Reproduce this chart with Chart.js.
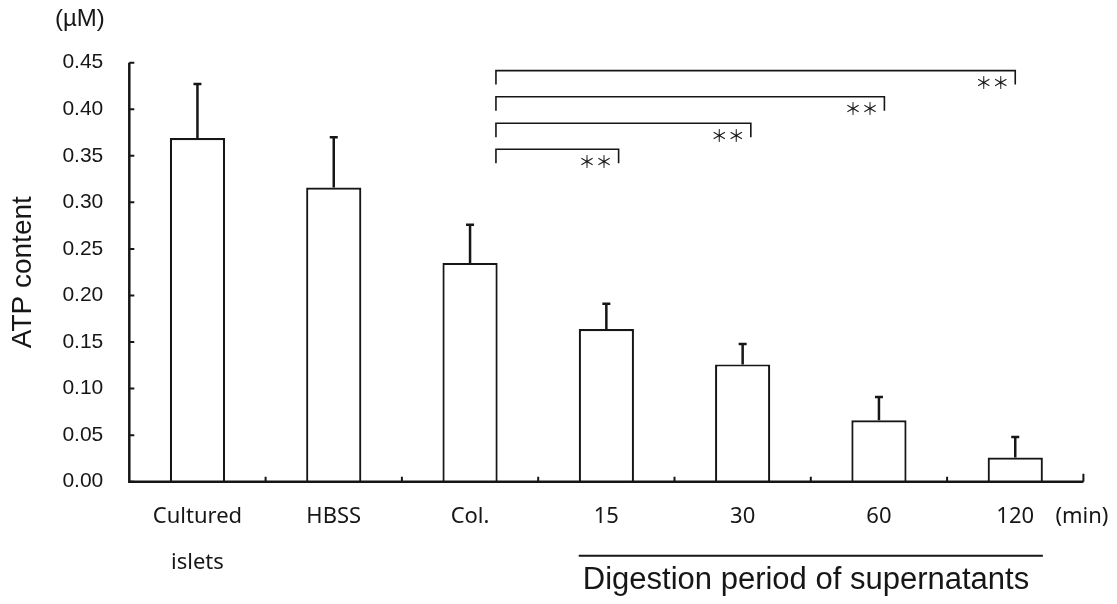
<!DOCTYPE html>
<html>
<head>
<meta charset="utf-8">
<script src="https://cdn.jsdelivr.net/npm/chart.js@4.4.1/dist/chart.umd.min.js"></script>
<style>
  body { margin: 0; background: #fff; }
  #wrap { width: 1117px; height: 604px; }
</style>
</head>
<body>
<div id="wrap"><canvas id="myChart" width="1117" height="604"></canvas></div>
<script>
// values
var categories = [['Cultured', 'islets'], 'HBSS', 'Col.', '15', '30', '60', '120'];
var atpMean = [0.369, 0.316, 0.235, 0.164, 0.126, 0.066, 0.026];
var atpSD = [0.058, 0.054, 0.041, 0.027, 0.022, 0.025, 0.022];
var yTickValues = [0, 0.05, 0.10, 0.15, 0.20, 0.25, 0.30, 0.35, 0.40, 0.45];
var yTickLabels = ['0.00', '0.05', '0.10', '0.15', '0.20', '0.25', '0.30', '0.35', '0.40', '0.45'];

// significance brackets: Col. vs each digestion time
var bracketFrom = [2.19, 2.19, 2.19, 2.19];
var bracketTo = [3.09, 4.06, 5.04, 6.0];
var bracketLevel = [0.357, 0.385, 0.4135, 0.4415];
var bracketMark = '＊＊';

var ink = '#161616';

var extras = {
  id: 'extras',
  afterDatasetsDraw: function(chart) {
    var ctx = chart.ctx;
    var x = chart.scales.x, y = chart.scales.y;
    var meta = chart.getDatasetMeta(0);
    ctx.save();
    ctx.strokeStyle = ink;
    ctx.fillStyle = ink;

    // error bars (upper only)
    ctx.lineWidth = 2.5;
    meta.data.forEach(function(bar, i) {
      var top = y.getPixelForValue(atpMean[i] + atpSD[i]);
      ctx.beginPath();
      ctx.moveTo(bar.x, bar.y);
      ctx.lineTo(bar.x, top);
      ctx.moveTo(bar.x - 4, top);
      ctx.lineTo(bar.x + 4, top);
      ctx.stroke();
    });

    // axis lines
    ctx.lineWidth = 2.5;
    ctx.beginPath();
    ctx.moveTo(x.left, y.top);
    ctx.lineTo(x.left, y.bottom);
    ctx.lineTo(x.right, y.bottom);
    ctx.stroke();

    // inward ticks
    ctx.lineWidth = 2;
    ctx.beginPath();
    y.ticks.forEach(function(t) {
      var py = y.getPixelForValue(t.value);
      ctx.moveTo(x.left, py);
      ctx.lineTo(x.left + 5, py);
    });
    for (var i = 1; i <= categories.length; i++) {
      var px = x.getPixelForValue(i - 0.5);
      ctx.moveTo(px, y.bottom);
      ctx.lineTo(px, y.bottom - (i == categories.length ? 8 : 5));
    }
    ctx.stroke();

    // brackets
    ctx.lineWidth = 1.6;
    ctx.font = '17px "Noto Sans CJK JP"';
    ctx.textAlign = 'right';
    ctx.textBaseline = 'middle';
    for (var j = 0; j < bracketTo.length; j++) {
      var x1 = x.getPixelForValue(bracketFrom[j]);
      var x2 = x.getPixelForValue(bracketTo[j]);
      var by = y.getPixelForValue(bracketLevel[j]);
      ctx.beginPath();
      ctx.moveTo(x1, by + 14);
      ctx.lineTo(x1, by);
      ctx.lineTo(x2, by);
      ctx.lineTo(x2, by + 14);
      ctx.stroke();
      ctx.fillText(bracketMark, x2 - 6, by + 12);
    }

    // unit labels
    ctx.textBaseline = 'middle';
    ctx.textAlign = 'left';
    ctx.font = '24px "Liberation Sans"';
    ctx.fillText('(\u00b5M)', 55, 19);
    ctx.font = '22px "Noto Sans"';
    ctx.fillText('(min)', x.right - 28, 517);

    // digestion period line + caption
    var b15 = meta.data[3], b120 = meta.data[6];
    ctx.lineWidth = 2;
    ctx.beginPath();
    ctx.moveTo(b15.x - b15.width / 2, y.bottom + 74);
    ctx.lineTo(b120.x + b120.width / 2, y.bottom + 74);
    ctx.stroke();
    ctx.textAlign = 'center';
    ctx.font = '31px "Liberation Sans"';
    ctx.fillText('Digestion period of supernatants', 806, y.bottom + 99);

    ctx.restore();
  }
};

var ctx = document.getElementById('myChart').getContext('2d');
var myChart = new Chart(ctx, {
  type: 'bar',
  data: {
    labels: categories,
    datasets: [{
      label: 'ATP content',
      data: atpMean,
      backgroundColor: '#ffffff',
      borderColor: ink,
      borderWidth: 2.2,
      barPercentage: 0.405,
      categoryPercentage: 1.0
    }]
  },
  options: {
    responsive: false,
    animation: false,
    layout: { padding: { left: 0, top: 62.7, right: 33.6, bottom: 0 } },
    plugins: {
      legend: { display: false },
      tooltip: { enabled: false }
    },
    scales: {
      x: {
        grid: { display: false, drawTicks: false },
        border: { display: false },
        ticks: {
          color: ink,
          font: { family: 'Noto Sans', size: 22, lineHeight: 2.1 },
          padding: 12,
          maxRotation: 0,
          autoSkip: false
        },
        afterFit: function(scale) { scale.height = 122.3; }
      },
      y: {
        min: 0,
        max: 0.45,
        grid: { display: false, drawTicks: false },
        border: { display: false },
        afterBuildTicks: function(scale) {
          scale.ticks = yTickValues.map(function(v) { return { value: v }; });
        },
        ticks: {
          color: ink,
          font: { family: 'Liberation Sans', size: 21 },
          padding: 26,
          callback: function(value, index) { return yTickLabels[index]; }
        },
        title: {
          display: true,
          text: 'ATP content',
          color: ink,
          font: { family: 'Liberation Sans', size: 28 },
          padding: { top: 6, bottom: 0 }
        },
        afterFit: function(scale) { scale.width = 129.3; }
      }
    }
  },
  plugins: [extras]
});
</script>
</body>
</html>
